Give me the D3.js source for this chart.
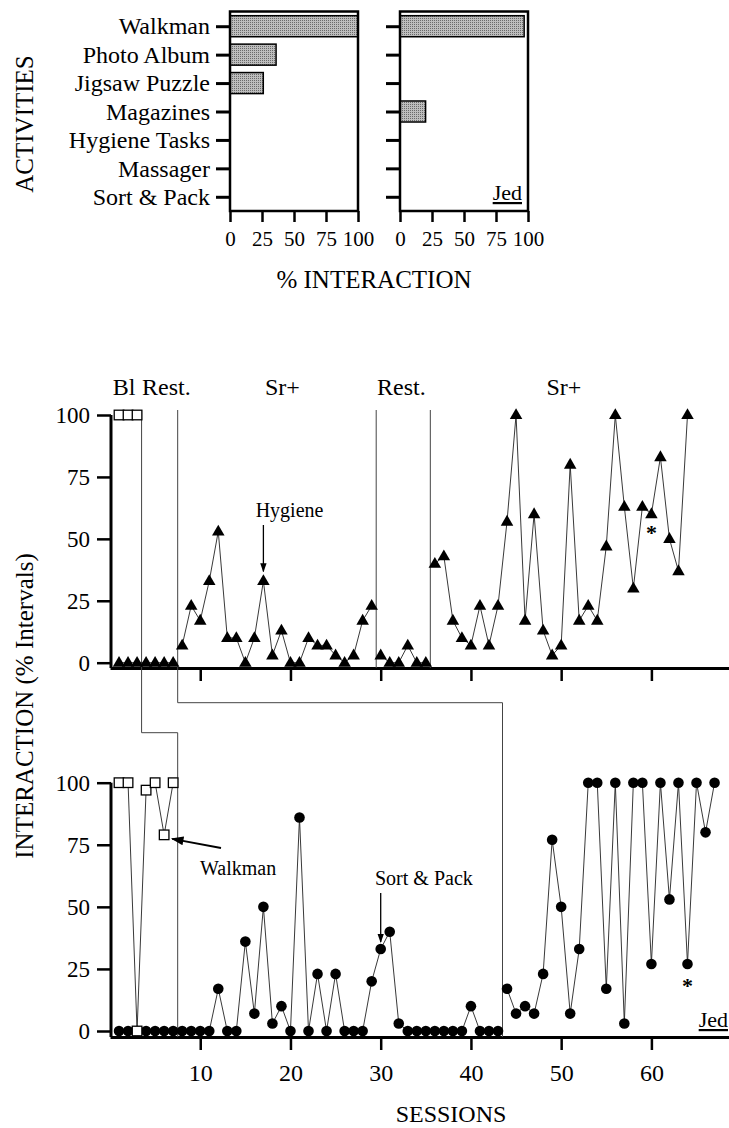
<!DOCTYPE html>
<html>
<head>
<meta charset="utf-8">
<script src="https://cdn.jsdelivr.net/npm/d3@7"></script>
<style>
  body { margin: 0; background: #fff; }
  svg { display: block; font-family: "Liberation Serif", "Times New Roman", serif; }
  .axis path, .axis line { stroke: #000; }
  .axis text { font-family: "Liberation Serif", serif; fill: #000; }
</style>
</head>
<body>
<div id="chart"></div>
<script>
  // top: preference assessment (% interaction per activity)
  let activities = ["Walkman", "Photo Album", "Jigsaw Puzzle", "Magazines", "Hygiene Tasks", "Massager", "Sort & Pack"];
  let pctLeft  = [100, 36, 26, 0, 0, 0, 0];
  let pctRight = [97, 0, 0, 20, 0, 0, 0];
  let pctTicks = [0, 25, 50, 75, 100];

  // sessions panels
  let hygiene = [0, 0, 0, 0, 0, 0, 0,
    7, 23, 17, 33, 53, 10, 10, 0, 10, 33, 3, 13, 0, 0, 10, 7, 7, 3, 0, 3, 17, 23,
    3, 0, 0, 7, 0, 0,
    40, 43, 17, 10, 7, 23, 7, 23, 57, 100, 17, 60, 13, 3, 7, 80, 17, 23, 17, 47, 100, 63, 30, 63, 60, 83, 50, 37, 100];
  let walkmanTop = [100, 100, 100];
  let walkmanBottom = [100, 100, 0, 97, 100, 79, 100];
  let sortPack = [0, 0, 0, 0, 0, 0, 0, 0, 0, 0, 0,
    17, 0, 0, 36, 7, 50, 3, 10, 0, 86, 0, 23, 0, 23, 0, 0, 0, 20, 33, 40, 3,
    0, 0, 0, 0, 0, 0, 0, 10, 0, 0, 0,
    17, 7, 10, 7, 23, 77, 50, 7, 33, 100, 100, 17, 100, 3, 100, 100, 27, 100, 53, 100, 27, 100, 80, 100];
  let topPhases = [3.5, 7.5, 29.5, 35.5];
  let bottomPhases = [7.5, 43.5];
  let phaseLabels = ["Bl", "Rest.", "Sr+", "Rest.", "Sr+"];
  let phaseLabelAt = [0.3, 3.55, 19.1, 29.6, 50.3];
  let phaseLabelAnchor = ["start", "start", "middle", "start", "middle"];
  let sessionTicks = [10, 20, 30, 40, 50, 60];
  let yTicks = [0, 25, 50, 75, 100];

  let W = 729, H = 1128;
  let svg = d3.select('#chart').append('svg').attr('width', W).attr('height', H);

  let defs = svg.append('defs');
  defs.append('marker').attr('id', 'arrow').attr('viewBox', '0 0 10 10')
      .attr('refX', 9).attr('refY', 5).attr('markerWidth', 7).attr('markerHeight', 7)
      .attr('orient', 'auto')
    .append('path').attr('d', 'M0,1.5 L10,5 L0,8.5 Z').attr('fill', '#000');

  // stippled grey for bars
  let pat = defs.append('pattern').attr('id', 'stipple').attr('width', 2).attr('height', 2)
      .attr('patternUnits', 'userSpaceOnUse');
  pat.append('rect').attr('width', 2).attr('height', 2).attr('fill', '#bdbdbd');
  pat.append('rect').attr('x', 0).attr('y', 0).attr('width', 1).attr('height', 1).attr('fill', '#6a6a6a');

  // ---------- bar panels ----------
  let yBand = d3.scaleBand().domain(activities).range([12, 211]).paddingInner(0.26).paddingOuter(0.13);

  function barPanel(x0, values, showLabels) {
    let x = d3.scaleLinear().domain([0, 100]).range([x0, x0 + 128]);
    let g = svg.append('g');

    g.selectAll('rect.bar').data(values).enter().append('rect').attr('class', 'bar')
      .attr('x', x(0)).attr('y', (d, i) => yBand(activities[i]))
      .attr('width', d => x(d) - x(0)).attr('height', yBand.bandwidth())
      .attr('fill', 'url(#stipple)').attr('stroke', '#000').attr('stroke-width', 1.5)
      .attr('opacity', d => d > 0 ? 1 : 0);

    g.append('rect').attr('x', x(0)).attr('y', 11.5).attr('width', 128).attr('height', 199.5)
      .attr('fill', 'none').attr('stroke', '#000').attr('stroke-width', 2.5);

    let ay = g.append('g').attr('class', 'axis').attr('transform', `translate(${x0},0)`)
      .call(d3.axisLeft(d3.scalePoint().domain(activities).range([yBand(activities[0]) + yBand.bandwidth() / 2,
            yBand(activities[6]) + yBand.bandwidth() / 2])).tickSize(14).tickPadding(6).tickSizeOuter(0));
    ay.select('.domain').remove();
    ay.selectAll('line').attr('stroke-width', 3);
    ay.selectAll('text').style('font-size', '24px');
    if (!showLabels) ay.selectAll('text').remove();

    let ax = g.append('g').attr('class', 'axis').attr('transform', 'translate(0,211)')
      .call(d3.axisBottom(x).tickValues(pctTicks).tickSize(11).tickPadding(9).tickSizeOuter(0));
    ax.select('.domain').remove();
    ax.selectAll('line').attr('stroke-width', 2.5);
    ax.selectAll('text').style('font-size', '21px');
    return x;
  }

  barPanel(230, pctLeft, true);
  let xr = barPanel(400, pctRight, false);

  svg.append('text').attr('x', xr(100) - 6).attr('y', 200).attr('text-anchor', 'end')
    .style('font-size', '22px').style('text-decoration', 'underline').text('Jed');

  svg.append('text').attr('transform', 'translate(33,124) rotate(-90)').attr('text-anchor', 'middle')
    .style('font-size', '25px').text('ACTIVITIES');
  svg.append('text').attr('x', 374).attr('y', 288).attr('text-anchor', 'middle')
    .style('font-size', '25px').text('% INTERACTION');

  // ---------- session panels ----------
  let x = d3.scaleLinear().domain([0, 68.6]).range([110, 729]);
  let yTop = d3.scaleLinear().domain([0, 100]).range([662.7, 415]);
  let yBot = d3.scaleLinear().domain([0, 100]).range([1031, 782.7]);
  let axisTopY = 668, axisBotY = 1037;

  function toPoints(arr, start) { return arr.map((v, i) => ({ s: i + start, v: v })); }

  function segments(pts, phases) {
    return d3.groups(pts, p => phases.filter(b => b < p.s).length).map(g => g[1]);
  }

  function sessionAxes(y, axisY, labels) {
    let ay = svg.append('g').attr('class', 'axis').attr('transform', 'translate(111,0)')
      .call(d3.axisLeft(y).tickValues(yTicks).tickSize(14).tickPadding(7));
    ay.select('.domain').remove();
    ay.selectAll('line').attr('stroke-width', 2.5);
    ay.selectAll('text').style('font-size', '23px');
    svg.append('line').attr('x1', 111).attr('x2', 111).attr('y1', y(100)).attr('y2', axisY)
      .attr('stroke', '#000').attr('stroke-width', 3);

    let ax = svg.append('g').attr('class', 'axis').attr('transform', `translate(0,${axisY})`)
      .call(d3.axisBottom(x).tickValues(sessionTicks).tickSize(13).tickPadding(14).tickSizeOuter(0));
    ax.select('.domain').attr('stroke-width', 3);
    ax.selectAll('line').attr('stroke-width', 2.5);
    ax.selectAll('text').style('font-size', '24px');
    if (!labels) ax.selectAll('text').remove();
  }

  sessionAxes(yTop, axisTopY, false);
  sessionAxes(yBot, axisBotY, true);

  // phase change lines (staggered across the two panels)
  let phaseTop = 410;
  let phaseLine = d3.line();
  let stepA = 732.7, stepB = 702.7;
  let phasePaths = [
    [[x(topPhases[0]), phaseTop], [x(topPhases[0]), stepA], [x(bottomPhases[0]), stepA], [x(bottomPhases[0]), axisBotY]],
    [[x(topPhases[1]), phaseTop], [x(topPhases[1]), stepB], [x(bottomPhases[1]), stepB], [x(bottomPhases[1]), axisBotY]],
    [[x(topPhases[2]), phaseTop], [x(topPhases[2]), axisTopY]],
    [[x(topPhases[3]), phaseTop], [x(topPhases[3]), axisTopY]]
  ];
  svg.selectAll('path.phase').data(phasePaths).enter().append('path').attr('class', 'phase')
    .attr('d', phaseLine).attr('fill', 'none').attr('stroke', '#444').attr('stroke-width', 1);

  svg.selectAll('text.phase').data(phaseLabels).enter().append('text').attr('class', 'phase')
    .attr('x', (d, i) => x(phaseLabelAt[i])).attr('y', 395)
    .attr('text-anchor', (d, i) => phaseLabelAnchor[i])
    .style('font-size', '24px').text(d => d);

  function drawSeries(pts, y, phases, marker) {
    let line = d3.line().x(d => x(d.s)).y(d => y(d.v));
    let g = svg.append('g');
    g.selectAll('path').data(segments(pts, phases)).enter().append('path')
      .attr('d', line).attr('fill', 'none').attr('stroke', '#222').attr('stroke-width', 0.9);
    let m = g.selectAll('.m').data(pts).enter();
    if (marker === 'triangle') {
      m.append('path').attr('d', d3.symbol(d3.symbolTriangle, 68))
        .attr('transform', d => `translate(${x(d.s)},${y(d.v) + 0.5})`).attr('fill', '#000');
    } else if (marker === 'circle') {
      m.append('circle').attr('cx', d => x(d.s)).attr('cy', d => y(d.v)).attr('r', 5.3).attr('fill', '#000');
    } else {
      m.append('rect').attr('x', d => x(d.s) - 4.8).attr('y', d => y(d.v) - 4.8)
        .attr('width', 9.6).attr('height', 9.6).attr('fill', '#fff').attr('stroke', '#000').attr('stroke-width', 1.3);
    }
  }

  drawSeries(toPoints(hygiene, 1), yTop, topPhases.slice(1), 'triangle');
  drawSeries(toPoints(walkmanTop, 1), yTop, [], 'square');
  drawSeries(toPoints(sortPack, 1), yBot, bottomPhases.slice(1), 'circle');
  drawSeries(toPoints(walkmanBottom, 1), yBot, [], 'square');

  // annotations
  svg.append('text').attr('x', x(19.9)).attr('y', 517).attr('text-anchor', 'middle')
    .style('font-size', '20px').text('Hygiene');
  svg.append('line').attr('x1', x(17)).attr('x2', x(17)).attr('y1', 525).attr('y2', yTop(34) - 7)
    .attr('stroke', '#000').attr('stroke-width', 1.3).attr('marker-end', 'url(#arrow)');

  svg.append('text').attr('x', 200).attr('y', 875).style('font-size', '20px').text('Walkman');
  svg.append('line').attr('x1', 221).attr('y1', 848).attr('x2', x(6) + 8).attr('y2', yBot(79) + 4)
    .attr('stroke', '#000').attr('stroke-width', 1.8).attr('marker-end', 'url(#arrow)');

  svg.append('text').attr('x', 375).attr('y', 885).style('font-size', '20px').text('Sort & Pack');
  svg.append('line').attr('x1', x(30)).attr('x2', x(30)).attr('y1', 893).attr('y2', yBot(33) - 7)
    .attr('stroke', '#000').attr('stroke-width', 1.3).attr('marker-end', 'url(#arrow)');

  svg.append('text').attr('x', x(60)).attr('y', 540).attr('text-anchor', 'middle')
    .style('font-size', '22px').style('font-weight', 'bold').text('*');
  svg.append('text').attr('x', x(64)).attr('y', 993).attr('text-anchor', 'middle')
    .style('font-size', '22px').style('font-weight', 'bold').text('*');

  svg.append('text').attr('x', 728).attr('y', 1027).attr('text-anchor', 'end')
    .style('font-size', '22px').style('text-decoration', 'underline').text('Jed');

  svg.append('text').attr('transform', 'translate(33,706) rotate(-90)').attr('text-anchor', 'middle')
    .style('font-size', '25px').text('INTERACTION (% Intervals)');
  svg.append('text').attr('x', 451).attr('y', 1122).attr('text-anchor', 'middle')
    .style('font-size', '24px').text('SESSIONS');
</script>
</body>
</html>
